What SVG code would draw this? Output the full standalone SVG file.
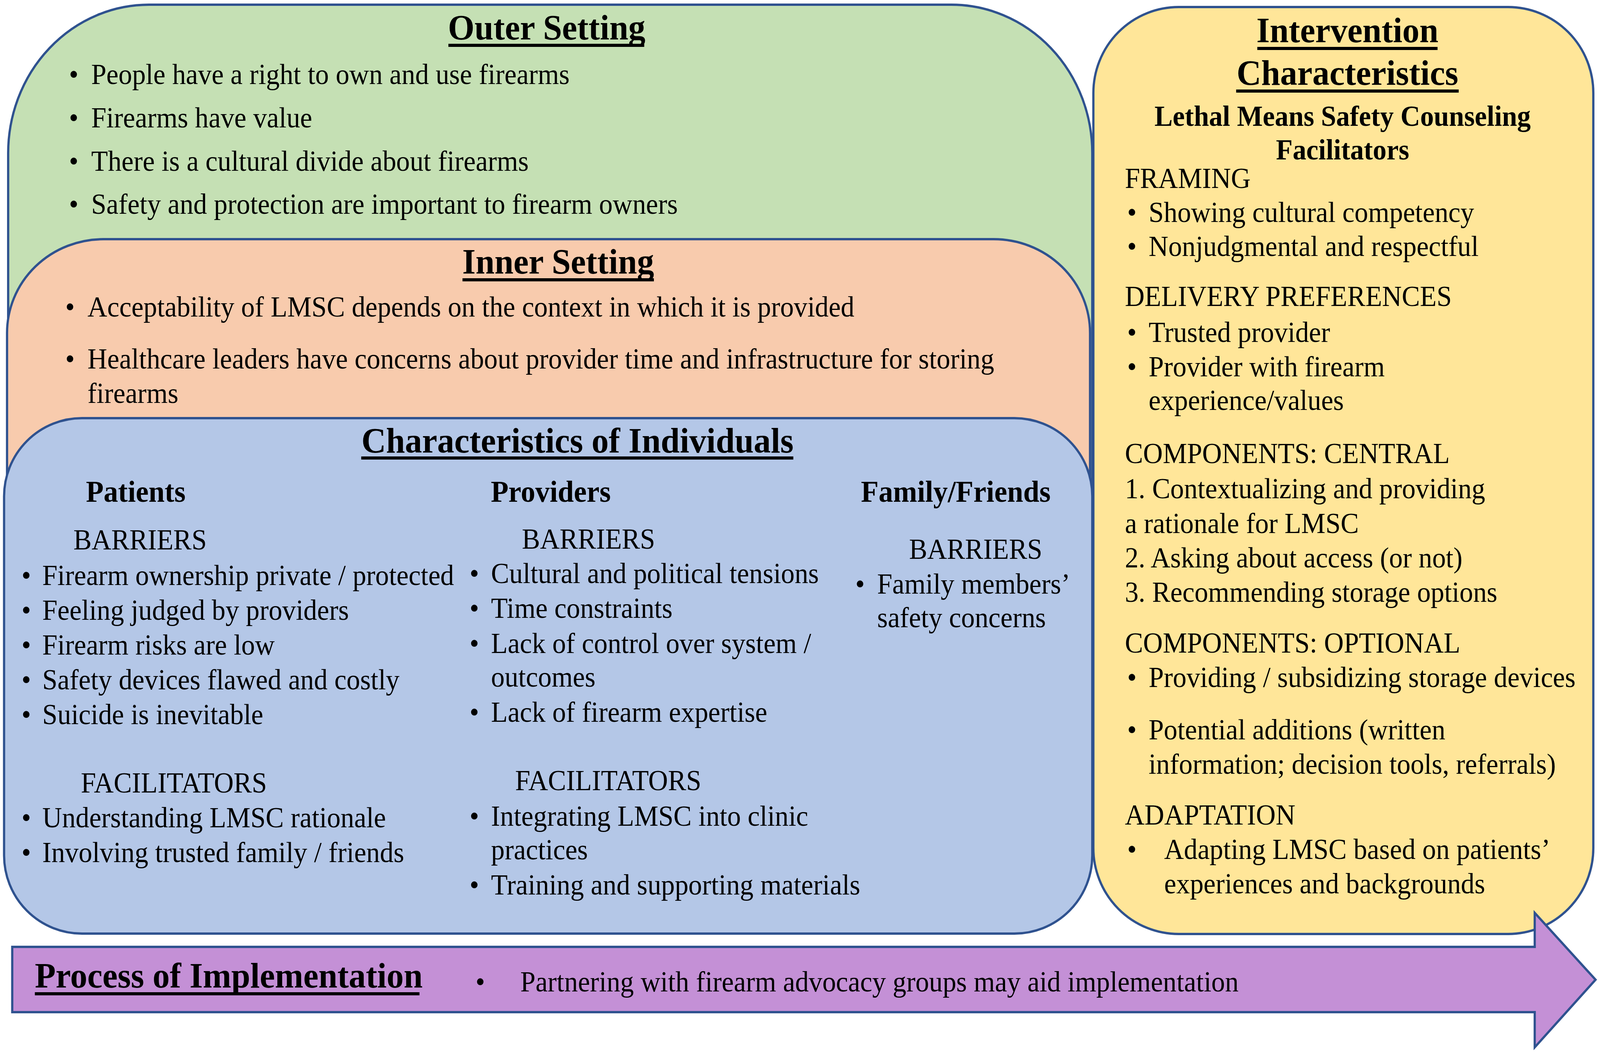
<svg xmlns="http://www.w3.org/2000/svg" width="4314" height="2692" viewBox="0 0 4314 2692" preserveAspectRatio="none">
<style>
svg:root{width:100vw;height:100vh}
.box{stroke:#2F528F;stroke-width:6}
text{font-family:"Liberation Serif","Times New Roman",serif;fill:#000}
.t{font-size:73.5px}
.h{font-size:92px;font-weight:bold}
.s{font-size:78px;font-weight:bold}
.b{font-size:73.5px;font-weight:bold}
.m{text-anchor:middle}
.u{stroke:#000;stroke-width:8}
</style>
<rect width="4314" height="2692" fill="#fff"/>
<g id="outer-setting">
<rect class="box" x="22" y="12" width="2923" height="1700" rx="380" ry="380" fill="#C5E0B4"/>
<text class="h m" x="1474" y="101">Outer Setting</text>
<line class="u" x1="1209" y1="116" x2="1737" y2="116"/>
<text class="t" x="186" y="215">•</text><text class="t" x="246" y="215">People have a right to own and use firearms</text>
<text class="t" x="186" y="326">•</text><text class="t" x="246" y="326">Firearms have value</text>
<text class="t" x="186" y="437">•</text><text class="t" x="246" y="437">There is a cultural divide about firearms</text>
<text class="t" x="186" y="547">•</text><text class="t" x="246" y="547">Safety and protection are important to firearm owners</text>
</g>
<g id="inner-setting">
<rect class="box" x="19" y="612" width="2920" height="1200" rx="260" ry="240" fill="#F8CBAD"/>
<text class="h m" x="1505" y="700">Inner Setting</text>
<line class="u" x1="1247" y1="716" x2="1763" y2="716"/>
<text class="t" x="176" y="810">•</text><text class="t" x="236" y="810">Acceptability of LMSC depends on the context in which it is provided</text>
<text class="t" x="176" y="943">•</text><text class="t" x="236" y="943">Healthcare leaders have concerns about provider time and infrastructure for storing</text>
<text class="t" x="236" y="1031">firearms</text>
</g>
<g id="characteristics-of-individuals">
<rect class="box" x="11" y="1070" width="2934" height="1319" rx="210" ry="200" fill="#B4C7E7"/>
<text class="h m" x="1557" y="1158">Characteristics of Individuals</text>
<line class="u" x1="974" y1="1172" x2="2139" y2="1172"/>
<text class="s m" x="366" y="1284">Patients</text>
<text class="s m" x="1485" y="1284">Providers</text>
<text class="s m" x="2577" y="1284">Family/Friends</text>
<text class="t" x="198" y="1406">BARRIERS</text>
<text class="t" x="58" y="1497">•</text><text class="t" x="114" y="1497">Firearm ownership private / protected</text>
<text class="t" x="58" y="1586">•</text><text class="t" x="114" y="1586">Feeling judged by providers</text>
<text class="t" x="58" y="1675">•</text><text class="t" x="114" y="1675">Firearm risks are low</text>
<text class="t" x="58" y="1764">•</text><text class="t" x="114" y="1764">Safety devices flawed and costly</text>
<text class="t" x="58" y="1853">•</text><text class="t" x="114" y="1853">Suicide is inevitable</text>
<text class="t" x="218" y="2028">FACILITATORS</text>
<text class="t" x="58" y="2117">•</text><text class="t" x="114" y="2117">Understanding LMSC rationale</text>
<text class="t" x="58" y="2206">•</text><text class="t" x="114" y="2206">Involving trusted family / friends</text>
<text class="t" x="1407" y="1404">BARRIERS</text>
<text class="t" x="1266" y="1492">•</text><text class="t" x="1324" y="1492">Cultural and political tensions</text>
<text class="t" x="1266" y="1581">•</text><text class="t" x="1324" y="1581">Time constraints</text>
<text class="t" x="1266" y="1671">•</text><text class="t" x="1324" y="1671">Lack of control over system /</text>
<text class="t" x="1324" y="1757">outcomes</text>
<text class="t" x="1266" y="1847">•</text><text class="t" x="1324" y="1847">Lack of firearm expertise</text>
<text class="t" x="1389" y="2022">FACILITATORS</text>
<text class="t" x="1266" y="2113">•</text><text class="t" x="1324" y="2113">Integrating LMSC into clinic</text>
<text class="t" x="1324" y="2199">practices</text>
<text class="t" x="1266" y="2289">•</text><text class="t" x="1324" y="2289">Training and supporting materials</text>
<text class="t" x="2451" y="1430">BARRIERS</text>
<text class="t" x="2306" y="1519">•</text><text class="t" x="2365" y="1519">Family members’</text>
<text class="t" x="2365" y="1605">safety concerns</text>
</g>
<g id="intervention-characteristics">
<rect class="box" x="2948" y="18" width="1348" height="2372" rx="230" ry="220" fill="#FFE699"/>
<text class="h m" x="3633" y="108">Intervention</text>
<line class="u" x1="3390" y1="124" x2="3876" y2="124"/>
<text class="h m" x="3633" y="217">Characteristics</text>
<line class="u" x1="3333" y1="233" x2="3933" y2="233"/>
<text class="b m" x="3620" y="322">Lethal Means Safety Counseling</text>
<text class="b m" x="3620" y="408">Facilitators</text>
<text class="t" x="3033" y="481">FRAMING</text>
<text class="t" x="3039" y="568">•</text><text class="t" x="3097" y="568">Showing cultural competency</text>
<text class="t" x="3039" y="655">•</text><text class="t" x="3097" y="655">Nonjudgmental and respectful</text>
<text class="t" x="3033" y="783">DELIVERY PREFERENCES</text>
<text class="t" x="3039" y="875">•</text><text class="t" x="3097" y="875">Trusted provider</text>
<text class="t" x="3039" y="963">•</text><text class="t" x="3097" y="963">Provider with firearm</text>
<text class="t" x="3097" y="1049">experience/values</text>
<text class="t" x="3033" y="1185">COMPONENTS: CENTRAL</text>
<text class="t" x="3033" y="1275">1. Contextualizing and providing</text>
<text class="t" x="3033" y="1364">a rationale for LMSC</text>
<text class="t" x="3033" y="1452">2. Asking about access (or not)</text>
<text class="t" x="3033" y="1540">3. Recommending storage options</text>
<text class="t" x="3033" y="1670">COMPONENTS: OPTIONAL</text>
<text class="t" x="3039" y="1758">•</text><text class="t" x="3097" y="1758">Providing / subsidizing storage devices</text>
<text class="t" x="3039" y="1892">•</text><text class="t" x="3097" y="1892">Potential additions (written</text>
<text class="t" x="3097" y="1980">information; decision tools, referrals)</text>
<text class="t" x="3033" y="2110">ADAPTATION</text>
<text class="t" x="3039" y="2198">•</text><text class="t" x="3139" y="2198">Adapting LMSC based on patients’</text>
<text class="t" x="3139" y="2286">experiences and backgrounds</text>
</g>
<g id="process-of-implementation">
<polygon class="box" points="33,2423 4138,2423 4138,2336 4302,2507 4138,2680 4138,2590 33,2590" fill="#C490D6"/>
<text class="h" x="94" y="2527">Process of Implementation</text>
<line class="u" x1="94" y1="2543" x2="1131" y2="2543"/>
<text class="t" x="1282" y="2537">•</text><text class="t" x="1403" y="2537">Partnering with firearm advocacy groups may aid implementation</text>
</g>
<g id="connectors"/>
</svg>
